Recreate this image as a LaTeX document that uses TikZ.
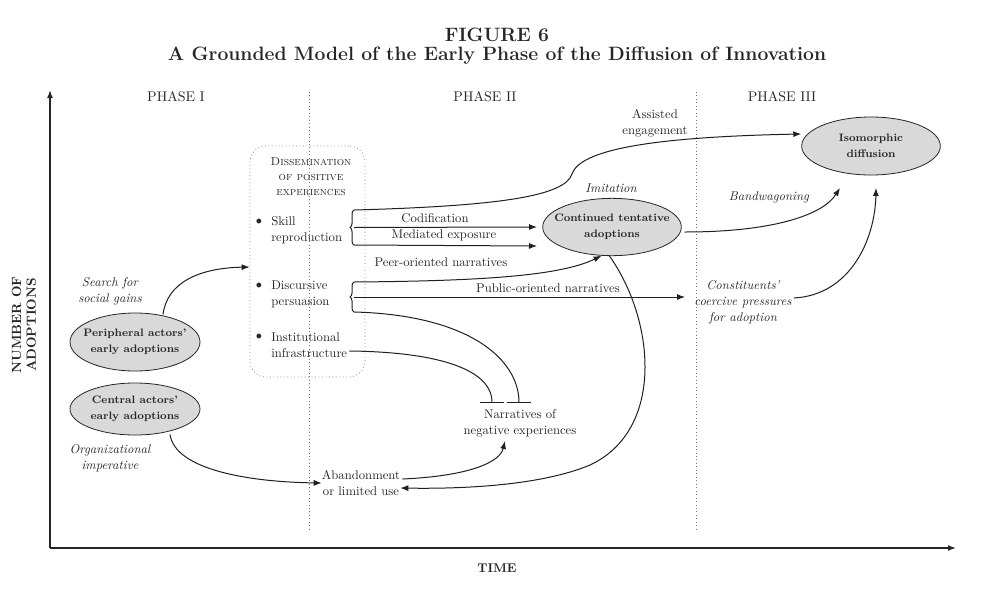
\documentclass[tikz,border=0pt]{standalone}
\usetikzlibrary{shapes.geometric,arrows.meta,decorations.pathreplacing}
\begin{document}
\begin{tikzpicture}[x=0.75pt,y=-0.75pt,
  every node/.style={text=black!85,font=\fontsize{9.5}{12}\selectfont,inner sep=0pt},
  lab/.style={align=center},
  itl/.style={align=center,font=\fontsize{9.5}{12}\selectfont\itshape},
  bld/.style={align=center,font=\fontsize{8.1}{12}\selectfont\bfseries},
  ell/.style={ellipse,draw=black!85,fill=black!15,line width=0.6pt},
  conn/.style={draw=black!88,line width=0.75pt},
  arr/.style={conn,-{Latex[length=6pt,width=4.5pt]}},
  barend/.style={conn,-{Bar[width=18pt,line width=0.75pt]}},
  axis/.style={draw=black!85,line width=1.1pt,-{Latex[length=6pt,width=4.5pt]}},
  phasedot/.style={draw=black!55,line width=0.6pt,dotted},
  brc/.style={conn,decorate,decoration={brace,amplitude=3pt}},
  phase/.style={font=\fontsize{10.5}{12}\selectfont}
]
\useasboundingbox (0,0) rectangle (1003,611);
% title
\node[font=\fontsize{14.5}{16}\selectfont\bfseries] (t1) at (497,35) {FIGURE 6};
\node[font=\fontsize{14.5}{16}\selectfont\bfseries] (t2) at (497,56) {A Grounded Model of the Early Phase of the Diffusion of Innovation};
% axes
\coordinate (o) at (50,548);
\coordinate (ytop) at (50,90);
\coordinate (xend) at (956,548);
\draw[axis] (o) -- (ytop);
\draw[axis] (o) -- (xend);
\node[font=\fontsize{9.5}{11}\selectfont\bfseries] (time) at (497,568) {TIME};
\node[font=\fontsize{10}{11}\selectfont\bfseries,rotate=90,align=center] (nadopt) at (24,325) {NUMBER OF\\ADOPTIONS};
% phase separators
\coordinate (d1a) at (309,92); \coordinate (d1b) at (309,530);
\coordinate (d2a) at (696,92); \coordinate (d2b) at (696,530);
\draw[phasedot] (d1a) -- (d1b);
\draw[phasedot] (d2a) -- (d2b);
\node[phase] (p1) at (176,97) {PHASE I};
\node[phase] (p2) at (485,97) {PHASE II};
\node[phase] (p3) at (782,97) {PHASE III};
% dissemination box
\node[draw=black!50,dotted,line width=0.6pt,rounded corners=12pt,minimum width=86.25pt,minimum height=173.25pt] (dbox) at (307.5,261.5) {};
\node[align=center,font=\fontsize{8.7}{11.25}\selectfont] (dtitle) at (311,177) {\textsc{Dissemination}\\\textsc{of positive}\\\textsc{experiences}};
\node (b1) at (259,222) {$\bullet$};
\node (b2) at (259,286) {$\bullet$};
\node (b3) at (259,337) {$\bullet$};
\node[anchor=west,align=left] (skill) at (271,230) {Skill\\reproduction};
\node[anchor=west,align=left] (disc) at (271,294) {Discursive\\persuasion};
\node[anchor=west,align=left] (inst) at (271,345) {Institutional\\infrastructure};
% braces
\coordinate (sbT) at (354,210); \coordinate (sbM) at (354,227.5); \coordinate (sbB) at (354,245);
\coordinate (dbT) at (354,282); \coordinate (dbM) at (354,297); \coordinate (dbB) at (354,312);
\draw[brc] (sbB) -- (sbT);
\draw[brc] (dbB) -- (dbT);
% ellipses
\node[ell,minimum width=97.5pt,minimum height=43.5pt] (per) at (135,342) {};
\node[bld] (pert) at (per) {Peripheral actors'\\early adoptions};
\node[ell,minimum width=97.5pt,minimum height=39pt] (cen) at (135,409) {};
\node[bld] (cent) at (cen) {Central actors'\\early adoptions};
\node[ell,minimum width=104pt,minimum height=43pt] (cta) at (612,227) {};
\node[bld] (ctat) at (cta) {Continued tentative\\adoptions};
\node[ell,minimum width=104pt,minimum height=43.5pt] (iso) at (871,146) {};
\node[bld] (isot) at (iso) {Isomorphic\\diffusion};
% labels
\node[itl] (search) at (110,291) {Search for\\social gains};
\node[itl] (orgimp) at (110,458) {Organizational\\imperative};
\node[itl] (imit) at (611,188) {Imitation};
\node[itl] (bandw) at (769,197) {Bandwagoning};
\node[lab] (assist) at (655,123) {Assisted\\engagement};
\node[lab] (codif) at (435,218) {Codification};
\node[lab] (medexp) at (444,235) {Mediated exposure};
\node[lab] (peer) at (441,262) {Peer-oriented narratives};
\node[lab] (public) at (548,288) {Public-oriented narratives};
\node[itl] (const) at (743,302) {Constituents'\\coercive pressures\\for adoption};
\node[lab] (neg) at (520,423) {Narratives of\\negative experiences};
\node[lab] (aband) at (361,483) {Abandonment\\or limited use};
% coordinates
\coordinate (bar1) at (492,403);
\coordinate (bar2) at (519,403);
\coordinate (cod) at (537,227);
\coordinate (med) at (537,246);
\coordinate (pubend) at (685,297);
% connectors
\draw[arr] (per.north) ++(28,2) .. controls (167,282) and (200,268) .. (dbox.west |- 0,267);
\draw[arr] (sbT) .. controls (500,206) and (565,196) .. (572,174) .. controls (580,150) and (650,137) .. (iso.west |- 0,134);
\draw[arr] (sbM) -- (cod);
\draw[arr] (sbB) -- (med);
\draw[arr] (dbT) .. controls (480,281) and (560,276) .. (cta.-110);
\draw[arr] (dbM) -- (pubend);
\draw[barend] (dbB) .. controls (470,315) and (519,360) .. (bar2);
\draw[barend] (inst.east) ++(2,6) .. controls (440,352) and (492,370) .. (bar1);
\draw[arr] (cta.east) ++(3,5) .. controls (770,232) and (822,216) .. (840,188);
\draw[arr] (const.east) ++(2,-4) .. controls (850,295) and (875,240) .. (876,188);
\draw[arr] (cen.south) ++(35,-1) .. controls (175,470) and (250,482) .. (aband.west);
\draw[arr] (aband.east) ++(2,-4) .. controls (470,476) and (500,462) .. (505,441);
\draw[arr] (cta.-95) .. controls (655,320) and (665,430) .. (590,465) .. controls (540,486) and (460,489) .. (aband.east |- 0,488);
\end{tikzpicture}
\end{document}
